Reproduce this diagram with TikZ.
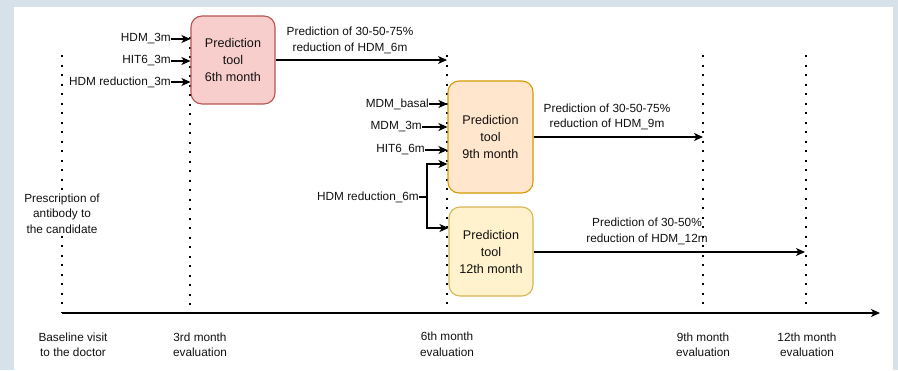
\documentclass[tikz,border=0pt]{standalone}
\usepackage{fontspec}
\setmainfont{Liberation Sans}
\usetikzlibrary{arrows.meta}
\definecolor{bgc}{HTML}{D6E1E9}
\definecolor{redfill}{HTML}{F8CECC}
\definecolor{reddraw}{HTML}{B85450}
\definecolor{orfill}{HTML}{FFE6CC}
\definecolor{ordraw}{HTML}{D79B00}
\definecolor{yefill}{HTML}{FFF2CC}
\definecolor{yedraw}{HTML}{D6B656}
\definecolor{txt}{HTML}{111111}
\begin{document}
\begin{tikzpicture}[x=1pt,y=-1pt,
  lbl/.style={font=\fontsize{11.8}{15.5}\selectfont, inner sep=0pt, text=txt, align=center},
  tool/.style={rounded corners=11pt, line width=1.1pt, align=center, text=txt,
    font=\fontsize{12.6}{17}\selectfont, inner sep=0pt},
  conn/.style={line width=1.2pt, -{Stealth[length=9pt,width=8pt,inset=2.5pt]}},
  plain/.style={line width=1.2pt},
  tline/.style={line width=2pt, dash pattern=on 2pt off 7.5pt}]
\useasboundingbox (0,0) rectangle (898,370);
\fill[bgc] (0,0) rectangle (898,370);
\fill[white] (14,7) rectangle (893,370);

% time lines
\coordinate (v0t) at (62,55);   \coordinate (v0b) at (62,313);
\coordinate (v3t) at (190,37);  \coordinate (v3b) at (190,313);
\coordinate (v6t) at (447,55);  \coordinate (v6b) at (447,313);
\coordinate (v9t) at (703,55);  \coordinate (v9b) at (703,313);
\coordinate (v12t) at (806,55); \coordinate (v12b) at (806,313);
\coordinate (axend) at (880,313);
\draw[tline] (v0t) -- (v0b);
\draw[tline] (v3t) -- (v3b);
\draw[tline] (v6t) -- (v6b);
\draw[tline] (v9t) -- (v9b);
\draw[tline] (v12t) -- (v12b);
\draw[conn] (v0b) -- (axend);

% prediction tools
\node[tool, draw=reddraw, fill=redfill, minimum width=84pt, minimum height=88pt] (n1) at (233,60) {Prediction\\tool\\6th month};
\node[tool, draw=ordraw, fill=orfill, minimum width=85pt, minimum height=112pt] (n2) at (490.5,137) {Prediction\\tool\\9th month};
\node[tool, draw=yedraw, fill=yefill, minimum width=84pt, minimum height=89pt] (n3) at (491,251.5) {Prediction\\tool\\12th month};

% inputs of the 6th month tool
\node[lbl, anchor=east] (a1) at (171,39) {HDM\_3m};
\node[lbl, anchor=east] (a2) at (171,61) {HIT6\_3m};
\node[lbl, anchor=east] (a3) at (171,82) {HDM reduction\_3m};
\draw[conn] (a1.east) -- (a1.east -| n1.west);
\draw[conn] (a2.east) -- (a2.east -| n1.west);
\draw[conn] (a3.east) -- (a3.east -| n1.west);

% inputs of the 9th month tool
\node[lbl, anchor=east] (b1) at (429,104) {MDM\_basal};
\node[lbl, anchor=east] (b2) at (422,127) {MDM\_3m};
\node[lbl, anchor=east] (b3) at (425,150) {HIT6\_6m};
\draw[conn] (b1.east) -- (b1.east -| n2.west);
\draw[conn] (b2.east) -- (b2.east -| n2.west);
\draw[conn] (b3.east) -- (b3.east -| n2.west);

\node[lbl, anchor=east] (h6) at (419,197) {HDM reduction\_6m};
\coordinate (e6) at (427,197);
\coordinate (e6u) at (427,164);
\coordinate (e6d) at (427,228);
\draw[plain] (h6.east) -- (e6);
\draw[conn] (e6) -- (e6u) -- (e6u -| n2.west);
\draw[conn] (e6) -- (e6d) -- (e6d -| n3.west);

% outputs
\draw[conn] (n1.east) -- (n1.east -| v6t);
\node[lbl] (o1) at (350,40.5) {Prediction of 30-50-75\%\\reduction of HDM\_6m};
\draw[conn] (n2.east) -- (n2.east -| v9t);
\node[lbl] (o2) at (607,117) {Prediction of 30-50-75\%\\reduction of HDM\_9m};
\coordinate (t12) at (805,252);
\draw[conn] (n3.east |- t12) -- (t12);
\node[lbl] (o3) at (647,231.5) {Prediction of 30-50\%\\reduction of HDM\_12m};

% baseline note
\node[lbl, fill=white, inner sep=1pt] (pr) at (62,213.5) {Prescription of\\antibody to\\the candidate};

% bottom labels
\node[lbl] (l0) at (73,345) {Baseline visit\\to the doctor};
\node[lbl] (l3) at (200,345) {3rd month\\evaluation};
\node[lbl] (l6) at (447,344.5) {6th month\\evaluation};
\node[lbl] (l9) at (703,345) {9th month\\evaluation};
\node[lbl] (l12) at (807,345) {12th month\\evaluation};
\end{tikzpicture}
\end{document}
